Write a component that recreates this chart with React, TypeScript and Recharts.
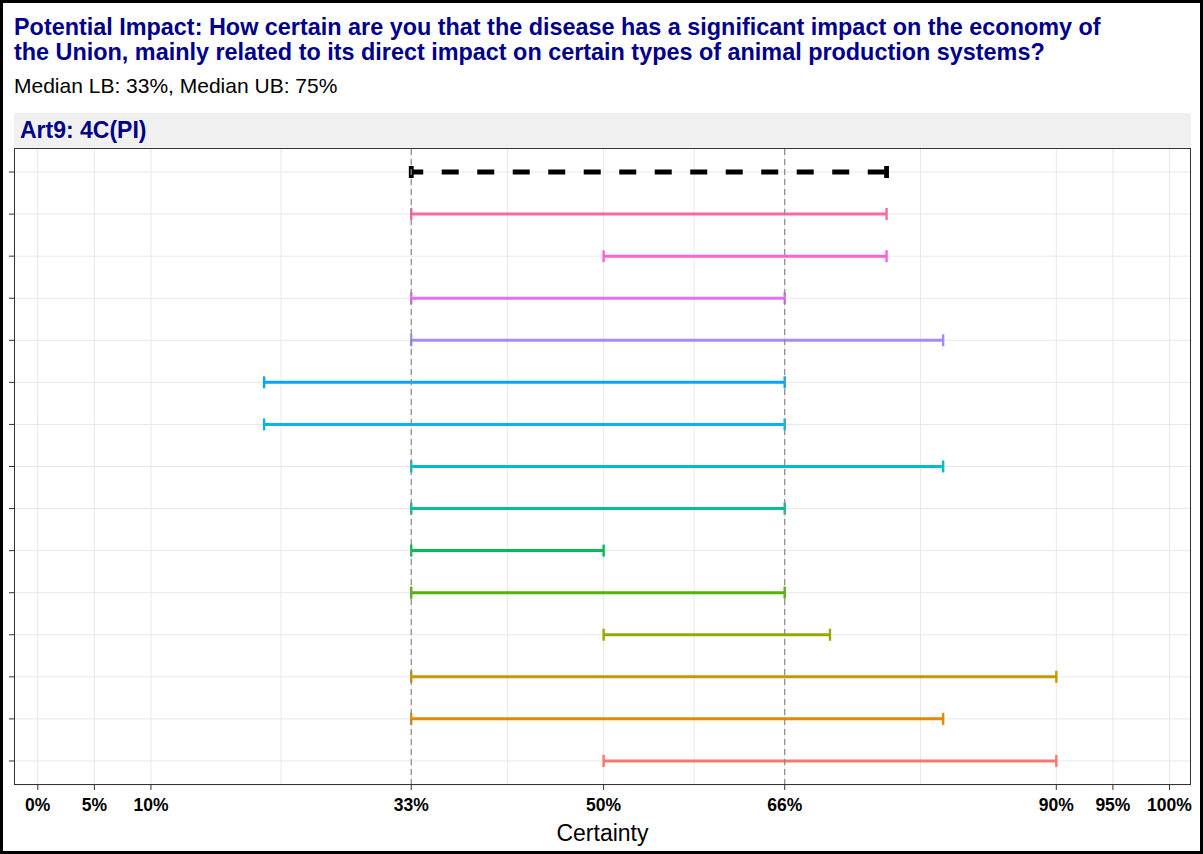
import React from "react";
import {
  ComposedChart,
  Bar,
  XAxis,
  YAxis,
  CartesianGrid,
  ReferenceLine,
} from "recharts";

// axis breaks on the certainty scale (percent)
const xTicks = [0, 5, 10, 33, 50, 66, 90, 95, 100];
const xDomain = [-2.1, 101.9];
// dashed guides
const guideLines = [33, 66];

const medianLB = 33;
const medianUB = 75;

const experts = [
  "Expert 1",
  "Expert 2",
  "Expert 3",
  "Expert 4",
  "Expert 5",
  "Expert 6",
  "Expert 7",
  "Expert 8",
  "Expert 9",
  "Expert 10",
  "Expert 11",
  "Expert 12",
  "Expert 13",
  "Expert 14",
];
const lowerBounds = [50, 33, 33, 50, 33, 33, 33, 33, 20, 20, 33, 33, 50, 33];
const upperBounds = [90, 80, 90, 70, 66, 50, 66, 80, 66, 66, 80, 66, 75, 75];
const expertColors = [
  "#F8766D",
  "#E58700",
  "#C49A00",
  "#99A800",
  "#53B400",
  "#00BC56",
  "#00C094",
  "#00BFC4",
  "#00B6EB",
  "#06A4FF",
  "#A58AFF",
  "#DF70F8",
  "#FB61D7",
  "#FF66A8",
];

// minor grid lines sit halfway between the breaks
const minorTicks = xTicks.slice(1).map((t, i) => (t + xTicks[i]) / 2);
const gridValues = [...xTicks, ...minorTicks].sort((a, b) => a - b);

// median row on top, then experts from last to first
const rows = [
  { name: "Median", range: [medianLB, medianUB], color: "#000000", median: true },
  ...experts
    .map((name, i) => ({
      name,
      range: [lowerBounds[i], upperBounds[i]],
      color: expertColors[i],
      median: false,
    }))
    .reverse(),
];

const font = "'Liberation Sans', Arial, sans-serif";

function IntervalShape(props: any) {
  const { x, y, width, height, payload } = props;
  const cy = y + height / 2;
  const x2 = x + width;
  if (payload.median) {
    return (
      <g>
        <line
          x1={x}
          x2={x2}
          y1={cy}
          y2={cy}
          stroke="#000"
          strokeWidth={4.8}
          strokeDasharray="17 18.5"
          strokeDashoffset={5}
        />
        <line x1={x} x2={x} y1={cy - 6} y2={cy + 6} stroke="#000" strokeWidth={4.8} />
        <line x1={x2} x2={x2} y1={cy - 6} y2={cy + 6} stroke="#000" strokeWidth={4.8} />
      </g>
    );
  }
  return (
    <g>
      <line x1={x} x2={x2} y1={cy} y2={cy} stroke={payload.color} strokeWidth={3} />
      <line x1={x} x2={x} y1={cy - 6} y2={cy + 6} stroke={payload.color} strokeWidth={2.4} />
      <line x1={x2} x2={x2} y1={cy - 6} y2={cy + 6} stroke={payload.color} strokeWidth={2.4} />
    </g>
  );
}

export default function App() {
  return (
    <div
      style={{
        position: "absolute",
        left: 0,
        top: 0,
        width: 1203,
        height: 854,
        boxSizing: "border-box",
        border: "3px solid #000",
        background: "#fff",
        fontFamily: font,
        overflow: "hidden",
      }}
    >
      <div
        style={{
          position: "absolute",
          left: 11,
          top: 12,
          fontSize: 23.4,
          fontWeight: "bold",
          color: "#00008B",
          lineHeight: "25px",
          whiteSpace: "nowrap",
        }}
      >
        Potential Impact: How certain are you that the disease has a significant impact on the economy of
        <br />
        the Union, mainly related to its direct impact on certain types of animal production systems?
      </div>
      <div
        style={{
          position: "absolute",
          left: 11,
          top: 71,
          fontSize: 21,
          color: "#000",
          lineHeight: "24px",
          whiteSpace: "nowrap",
        }}
      >
        Median LB: 33%, Median UB: 75%
      </div>
      <div
        style={{
          position: "absolute",
          left: 11,
          top: 110,
          width: 1177,
          height: 34,
          background: "#F0F0F0",
          fontSize: 23,
          fontWeight: "bold",
          color: "#00008B",
          lineHeight: "34px",
          paddingLeft: 6,
          boxSizing: "border-box",
        }}
      >
        Art9: 4C(PI)
      </div>
      <div style={{ position: "absolute", left: -3, top: -3 }}>
        <ComposedChart
          width={1203}
          height={854}
          layout="vertical"
          data={rows}
          margin={{ top: 148, right: 12, bottom: 0, left: 6 }}
        >
          <CartesianGrid
            stroke="#E8E8E8"
            strokeWidth={1}
            verticalValues={gridValues}
          />
          <XAxis
            type="number"
            dataKey="range"
            domain={xDomain}
            ticks={xTicks}
            allowDataOverflow
            tickFormatter={(v: number) => `${v}%`}
            tick={{ fill: "#000", fontSize: 17.5, fontWeight: "bold", fontFamily: font }}
            tickSize={5}
            tickMargin={9}
            tickLine={{ stroke: "#333" }}
            axisLine={false}
            height={69}
            label={{
              value: "Certainty",
              position: "insideBottom",
              offset: 13,
              fill: "#000",
              fontSize: 23,
              fontFamily: font,
            }}
          />
          <YAxis
            type="category"
            dataKey="name"
            width={8}
            tickSize={5}
            tickFormatter={() => ""}
            tickLine={{ stroke: "#333" }}
            axisLine={false}
            padding={{ top: 3, bottom: 3 }}
          />
          <Bar
            dataKey="range"
            barSize={12}
            shape={IntervalShape}
            isAnimationActive={false}
          />
          {guideLines.map((g) => (
            <ReferenceLine
              key={g}
              x={g}
              stroke="#8A8A8A"
              strokeWidth={1.2}
              strokeDasharray="6 4"
            />
          ))}
        </ComposedChart>
      </div>
      <div
        style={{
          position: "absolute",
          left: 11,
          top: 145,
          width: 1177,
          height: 637,
          border: "1.3px solid #333",
          boxSizing: "border-box",
          pointerEvents: "none",
        }}
      />
    </div>
  );
}
